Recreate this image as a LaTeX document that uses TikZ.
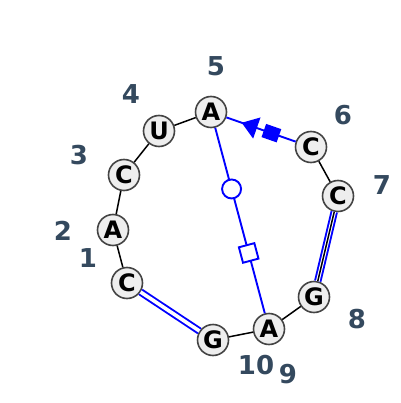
\documentclass[tikz,border=0pt]{standalone}
\usepackage{fontspec}
\usepackage{xcolor}
\usetikzlibrary{shapes.geometric}
\newfontfamily\nucfont{DejaVu Sans}
\definecolor{nucfill}{HTML}{EEEEEE}
\definecolor{nucline}{HTML}{444444}
\definecolor{numcol}{HTML}{34495E}
\definecolor{pairblue}{HTML}{0000FF}
\tikzset{
  nuc/.style={circle, draw=nucline, fill=nucfill, line width=1.6pt, minimum size=31pt, inner sep=0pt,
    font=\nucfont\bfseries\fontsize{24}{24}\selectfont},
  num/.style={text=numcol, inner sep=0pt, font=\nucfont\bfseries\fontsize{26}{26}\selectfont},
  backbone/.style={line width=1.5pt, black},
  pairline/.style={line width=1.9pt, pairblue},
  wcpair/.style={draw=pairblue, line width=1.9pt, double=white, double distance=3.6pt},
  wcsym/.style={circle, draw=pairblue, fill=white, line width=1.9pt, minimum size=19pt, inner sep=0pt},
  hoogsym/.style={rectangle, draw=pairblue, fill=white, line width=1.9pt, minimum size=16pt, inner sep=0pt, sloped},
  hoogfill/.style={rectangle, fill=pairblue, minimum width=16pt, minimum height=14pt, inner sep=0pt, sloped},
  sugarfill/.style={isosceles triangle, fill=pairblue, isosceles triangle apex angle=70, minimum height=16pt, inner sep=0pt, sloped, shape border rotate=180}
}
\begin{document}
\begin{tikzpicture}[x=1pt, y=-1pt]
        \useasboundingbox (0,0) rectangle (400,403);
        \node[nuc](c1) at (127,283) {C};
        \node[nuc](a2) at (113,230) {A};
        \node[nuc](c3) at (124,175) {C};
        \node[nuc](u4) at (159,131) {U};
        \node[nuc](a5) at (211,112) {A};
        \node[nuc](c6) at (311,147) {C};
        \node[nuc](c7) at (338,196) {C};
        \node[nuc](g8) at (314,297) {G};
        \node[nuc](a9) at (269,329) {A};
        \node[nuc](g10) at (213,340) {G};
        \node[num](n1) at (88,258) {1};
        \node[num](n2) at (63,231) {2};
        \node[num](n3) at (79,155) {3};
        \node[num](n4) at (131,94) {4};
        \node[num](n5) at (216,66) {5};
        \node[num](n6) at (343,115) {6};
        \node[num](n7) at (382,185) {7};
        \node[num](n8) at (357,319) {8};
        \node[num](n9) at (288,374) {9};
        \node[num](n10) at (256,365) {10};
        \draw[backbone](c1)--(a2);
        \draw[backbone](a2)--(c3);
        \draw[backbone](c3)--(u4);
        \draw[backbone](u4)--(a5);
        \draw[backbone](c6)--(c7);
        \draw[backbone](g8)--(a9);
        \draw[backbone](a9)--(g10);
        \draw[wcpair](c1)--(g10);
        \draw[wcpair](c7)--(g8);
        \draw[backbone](c7)--(g8);
        \draw[pairline](a5)--(c6)
          node[sugarfill, pos=0.36]{}
          node[hoogfill, pos=0.65]{};
        \draw[pairline](a5)--(a9)
          node[wcsym, pos=0.33]{}
          node[hoogsym, pos=0.675]{};
\end{tikzpicture}
\end{document}
